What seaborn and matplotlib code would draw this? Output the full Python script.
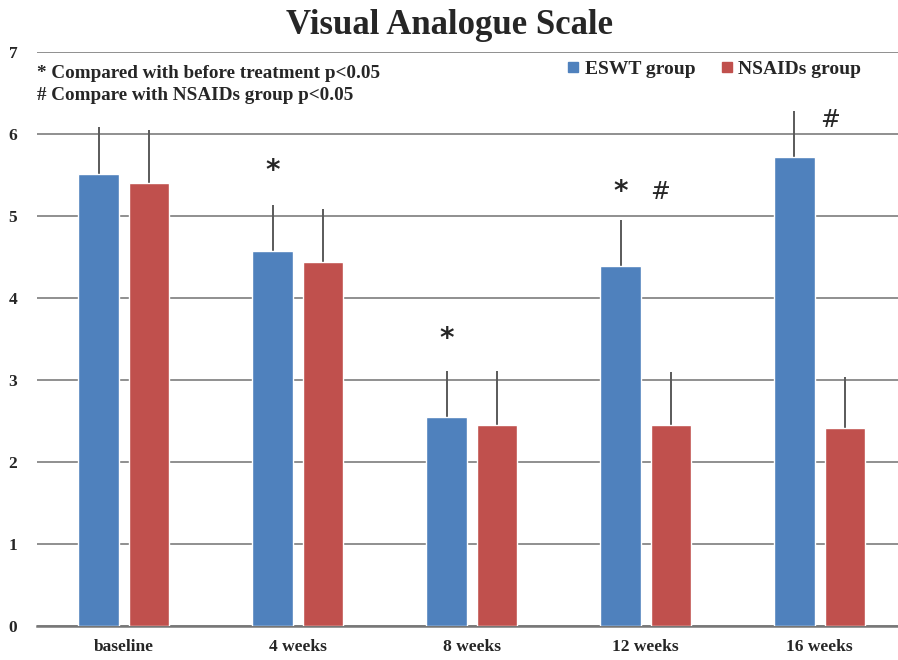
import matplotlib
matplotlib.use("Agg")
import matplotlib.pyplot as plt
from matplotlib.lines import Line2D
import seaborn as sns
import pandas as pd

# Visual Analogue Scale scores by time point (mean and SD)
timepoints = ["baseline", "4 weeks", "8 weeks", "12 weeks", "16 weeks"]
groups = ["ESWT group", "NSAIDs group"]
eswt_mean = [5.51, 4.57, 2.55, 4.39, 5.72]
eswt_sd = [0.58, 0.57, 0.56, 0.56, 0.56]
nsaid_mean = [5.40, 4.44, 2.45, 2.45, 2.41]
nsaid_sd = [0.65, 0.65, 0.66, 0.65, 0.63]

# significance marks: (time point index, symbol, x offset, height)
star_marks = [(1, "*", -0.145, 5.55), (2, "*", -0.145, 3.50), (3, "*", -0.145, 5.30)]
hash_marks = [(3, "#", 0.08, 5.30), (4, "#", 0.06, 6.17)]

colors = ["#4F81BD", "#C0504D"]

df = pd.DataFrame({
    "time": timepoints * 2,
    "group": [groups[0]] * len(timepoints) + [groups[1]] * len(timepoints),
    "vas": eswt_mean + nsaid_mean,
})
sds = {groups[0]: eswt_sd, groups[1]: nsaid_sd}

sns.set_style("white")
plt.rcParams["font.family"] = ["Liberation Serif", "DejaVu Serif"]

fig = plt.figure(figsize=(8.98, 6.6), dpi=100)
ax = fig.add_axes([0.041, 0.0515, 0.959, 0.8695])

sns.barplot(data=df, x="time", y="vas", hue="group", order=timepoints,
            hue_order=groups, palette=colors, width=0.58, gap=0.2,
            errorbar=None, saturation=1, ax=ax, zorder=3, legend=False)

# one-sided SD bars above each bar
for container, g in zip(ax.containers, groups):
    for patch, sd in zip(container.patches, sds[g]):
        xc = patch.get_x() + patch.get_width() / 2
        top = patch.get_height()
        ax.errorbar(xc, top, yerr=[[0], [sd]], fmt="none", ecolor="#5a5a5a",
                    elinewidth=1.4, capsize=0, zorder=2)

ax.set_ylim(0, 7)
ax.set_xlim(-0.5, 4.45)
ax.set_yticks(range(8))
ax.yaxis.grid(True, color="#8f8f8f", linewidth=1.4, zorder=1)
ax.set_axisbelow(True)
for s in ["top", "right", "left"]:
    ax.spines[s].set_visible(False)
ax.spines["bottom"].set_color("#777777")
ax.spines["bottom"].set_linewidth(1.8)
ax.tick_params(axis="both", length=0)
ax.tick_params(axis="y", pad=14)
ax.tick_params(axis="x", pad=9)
ax.set_xticks(range(len(timepoints)))
ax.set_xticklabels(timepoints)
for lab in ax.get_yticklabels() + ax.get_xticklabels():
    lab.set_fontweight("bold")
    lab.set_fontsize(12.5)
ax.set_xlabel("")
ax.set_ylabel("")

fig.text(0.5, 0.962, "Visual Analogue Scale", ha="center", va="center",
         fontsize=25, fontweight="bold")

ax.text(0.0, 0.962, "* Compared with before treatment p<0.05", fontsize=13.8,
        fontweight="bold", va="center", ha="left", transform=ax.transAxes)
ax.text(0.0, 0.924, "# Compare with NSAIDs group p<0.05", fontsize=13.8,
        fontweight="bold", va="center", ha="left", transform=ax.transAxes)

for i, sym, dx, h in star_marks:
    ax.text(i + dx, h, sym, ha="center", va="center", fontsize=20,
            fontweight="bold", family="DejaVu Sans")
for i, sym, dx, h in hash_marks:
    ax.text(i + dx, h, sym, ha="center", va="center", fontsize=17,
            family="DejaVu Sans")

# legend with small square markers
handles = [Line2D([], [], marker="s", linestyle="none", markersize=7.5,
                  markerfacecolor=c, markeredgecolor=c) for c in colors]
ax.legend(handles, groups, loc="center left", bbox_to_anchor=(0.589, 0.97),
          ncol=2, frameon=False, handletextpad=0.0, columnspacing=1.0,
          handlelength=1.2, prop={"weight": "bold", "size": 14})

fig.savefig("out.png", dpi=100)
